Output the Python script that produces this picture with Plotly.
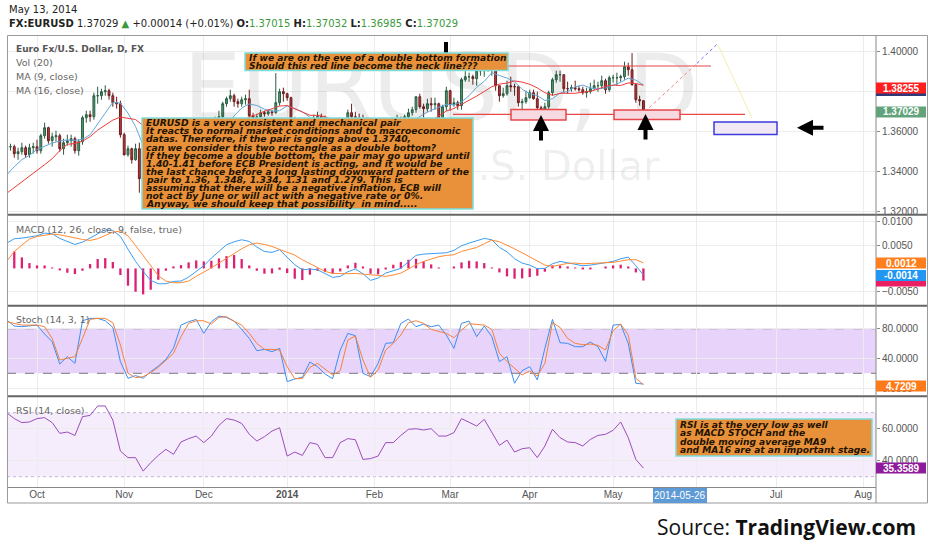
import pandas as pd
import plotly.graph_objects as go
from plotly.subplots import make_subplots

# daily FX bars (weekdays); the time axis keeps running into August 2014
dates = pd.bdate_range("2013-09-19", "2014-08-08")
n_bars = 169  # Sep 19 2013 .. May 13 2014

opens = [1.3510, 1.3525, 1.3525, 1.3490, 1.3500, 1.3520, 1.3485, 1.3520, 1.3525, 1.3505,
         1.3580, 1.3620, 1.3555, 1.3575, 1.3580, 1.3515, 1.3545, 1.3555, 1.3565, 1.3505,
         1.3550, 1.3670, 1.3685, 1.3675, 1.3780, 1.3780, 1.3800, 1.3805, 1.3780, 1.3745,
         1.3740, 1.3585, 1.3485, 1.3515, 1.3460, 1.3515, 1.3365, 1.3365, 1.3405, 1.3430,
         1.3460, 1.3445, 1.3500, 1.3505, 1.3530, 1.3440, 1.3490, 1.3555, 1.3515, 1.3560,
         1.3575, 1.3595, 1.3590, 1.3545, 1.3590, 1.3590, 1.3665, 1.3675, 1.3740, 1.3765,
         1.3780, 1.3750, 1.3740, 1.3760, 1.3765, 1.3680, 1.3665, 1.3675, 1.3695, 1.3690,
         1.3700, 1.3695, 1.3745, 1.3800, 1.3790, 1.3770, 1.3665, 1.3590, 1.3630, 1.3615,
         1.3575, 1.3610, 1.3670, 1.3675, 1.3670, 1.3605, 1.3615, 1.3540, 1.3545, 1.3560,
         1.3545, 1.3695, 1.3675, 1.3670, 1.3665, 1.3655, 1.3555, 1.3485, 1.3520, 1.3515,
         1.3530, 1.3590, 1.3635, 1.3640, 1.3665, 1.3595, 1.3675, 1.3695, 1.3710, 1.3775,
         1.3725, 1.3715, 1.3740, 1.3735, 1.3740, 1.3670, 1.3725, 1.3805, 1.3735, 1.3745,
         1.3730, 1.3860, 1.3875, 1.3875, 1.3865, 1.3905, 1.3905, 1.3910, 1.3930, 1.3930,
         1.3830, 1.3780, 1.3790, 1.3830, 1.3825, 1.3825, 1.3745, 1.3750, 1.3770, 1.3795,
         1.3765, 1.3720, 1.3705, 1.3725, 1.3795, 1.3860, 1.3885, 1.3885, 1.3815, 1.3815,
         1.3820, 1.3815, 1.3810, 1.3795, 1.3800, 1.3815, 1.3830, 1.3830, 1.3855, 1.3810,
         1.3870, 1.3870, 1.3870, 1.3875, 1.3925, 1.3910, 1.3835, 1.3760, 1.3755]
highs = [1.3545, 1.3540, 1.3535, 1.3520, 1.3545, 1.3530, 1.3540, 1.3545, 1.3560, 1.3590,
         1.3645, 1.3625, 1.3595, 1.3605, 1.3590, 1.3565, 1.3585, 1.3585, 1.3575, 1.3560,
         1.3680, 1.3705, 1.3705, 1.3795, 1.3825, 1.3815, 1.3832, 1.3815, 1.3795, 1.3775,
         1.3755, 1.3595, 1.3530, 1.3520, 1.3540, 1.3545, 1.3425, 1.3425, 1.3445, 1.3480,
         1.3485, 1.3510, 1.3515, 1.3545, 1.3540, 1.3505, 1.3570, 1.3560, 1.3575, 1.3585,
         1.3610, 1.3620, 1.3605, 1.3595, 1.3610, 1.3675, 1.3705, 1.3750, 1.3775, 1.3810,
         1.3790, 1.3765, 1.3775, 1.3785, 1.3810, 1.3695, 1.3690, 1.3710, 1.3705, 1.3710,
         1.3710, 1.3893, 1.3815, 1.3820, 1.3795, 1.3775, 1.3675, 1.3650, 1.3650, 1.3625,
         1.3620, 1.3685, 1.3700, 1.3690, 1.3680, 1.3635, 1.3625, 1.3560, 1.3580, 1.3580,
         1.3710, 1.3740, 1.3700, 1.3690, 1.3685, 1.3670, 1.3560, 1.3535, 1.3530, 1.3545,
         1.3620, 1.3645, 1.3655, 1.3685, 1.3675, 1.3685, 1.3715, 1.3725, 1.3775, 1.3790,
         1.3740, 1.3765, 1.3770, 1.3770, 1.3745, 1.3735, 1.3825, 1.3810, 1.3770, 1.3755,
         1.3870, 1.3915, 1.3895, 1.3885, 1.3925, 1.3967, 1.3935, 1.3945, 1.3945, 1.3935,
         1.3830, 1.3820, 1.3855, 1.3875, 1.3840, 1.3830, 1.3765, 1.3805, 1.3810, 1.3810,
         1.3800, 1.3730, 1.3745, 1.3805, 1.3870, 1.3905, 1.3905, 1.3885, 1.3850, 1.3835,
         1.3855, 1.3830, 1.3825, 1.3820, 1.3845, 1.3860, 1.3850, 1.3880, 1.3865, 1.3880,
         1.3885, 1.3895, 1.3885, 1.3950, 1.3945, 1.3993, 1.3840, 1.3780, 1.3758]
lows = [1.3495, 1.3505, 1.3470, 1.3460, 1.3485, 1.3470, 1.3470, 1.3490, 1.3490, 1.3490,
        1.3565, 1.3540, 1.3525, 1.3550, 1.3500, 1.3485, 1.3530, 1.3525, 1.3490, 1.3480,
        1.3535, 1.3645, 1.3650, 1.3660, 1.3740, 1.3760, 1.3780, 1.3760, 1.3725, 1.3715,
        1.3570, 1.3480, 1.3475, 1.3440, 1.3455, 1.3295, 1.3320, 1.3350, 1.3400, 1.3420,
        1.3425, 1.3430, 1.3470, 1.3495, 1.3400, 1.3425, 1.3480, 1.3500, 1.3505, 1.3535,
        1.3570, 1.3575, 1.3525, 1.3535, 1.3540, 1.3575, 1.3620, 1.3665, 1.3725, 1.3750,
        1.3725, 1.3720, 1.3725, 1.3735, 1.3665, 1.3640, 1.3625, 1.3670, 1.3675, 1.3680,
        1.3680, 1.3690, 1.3730, 1.3750, 1.3755, 1.3655, 1.3585, 1.3575, 1.3595, 1.3560,
        1.3550, 1.3595, 1.3640, 1.3645, 1.3595, 1.3590, 1.3530, 1.3510, 1.3530, 1.3515,
        1.3535, 1.3655, 1.3650, 1.3640, 1.3620, 1.3545, 1.3478, 1.3477, 1.3490, 1.3500,
        1.3500, 1.3570, 1.3615, 1.3620, 1.3585, 1.3570, 1.3660, 1.3680, 1.3695, 1.3715,
        1.3640, 1.3700, 1.3700, 1.3710, 1.3660, 1.3645, 1.3705, 1.3705, 1.3725, 1.3710,
        1.3710, 1.3850, 1.3850, 1.3835, 1.3830, 1.3880, 1.3875, 1.3900, 1.3880, 1.3805,
        1.3750, 1.3770, 1.3780, 1.3800, 1.3780, 1.3725, 1.3705, 1.3740, 1.3765, 1.3760,
        1.3690, 1.3673, 1.3680, 1.3715, 1.3780, 1.3845, 1.3850, 1.3795, 1.3790, 1.3800,
        1.3805, 1.3800, 1.3785, 1.3770, 1.3790, 1.3810, 1.3800, 1.3815, 1.3790, 1.3800,
        1.3845, 1.3830, 1.3850, 1.3860, 1.3880, 1.3830, 1.3745, 1.3730, 1.3698]
closes = [1.3525, 1.3525, 1.3490, 1.3500, 1.3520, 1.3485, 1.3520, 1.3525, 1.3505, 1.3580,
          1.3620, 1.3555, 1.3575, 1.3580, 1.3515, 1.3545, 1.3555, 1.3565, 1.3505, 1.3550,
          1.3670, 1.3685, 1.3675, 1.3780, 1.3780, 1.3800, 1.3805, 1.3780, 1.3745, 1.3740,
          1.3585, 1.3485, 1.3515, 1.3460, 1.3515, 1.3365, 1.3365, 1.3405, 1.3430, 1.3460,
          1.3445, 1.3500, 1.3505, 1.3530, 1.3440, 1.3490, 1.3555, 1.3515, 1.3560, 1.3575,
          1.3595, 1.3590, 1.3545, 1.3590, 1.3590, 1.3665, 1.3675, 1.3740, 1.3765, 1.3780,
          1.3750, 1.3740, 1.3760, 1.3765, 1.3680, 1.3665, 1.3675, 1.3695, 1.3690, 1.3700,
          1.3695, 1.3745, 1.3800, 1.3790, 1.3770, 1.3665, 1.3590, 1.3630, 1.3615, 1.3575,
          1.3610, 1.3670, 1.3675, 1.3670, 1.3605, 1.3615, 1.3540, 1.3545, 1.3560, 1.3545,
          1.3695, 1.3675, 1.3670, 1.3665, 1.3655, 1.3555, 1.3485, 1.3520, 1.3515, 1.3530,
          1.3590, 1.3635, 1.3640, 1.3665, 1.3595, 1.3675, 1.3695, 1.3710, 1.3775, 1.3725,
          1.3715, 1.3740, 1.3735, 1.3740, 1.3670, 1.3725, 1.3805, 1.3735, 1.3745, 1.3730,
          1.3860, 1.3875, 1.3875, 1.3865, 1.3905, 1.3905, 1.3910, 1.3930, 1.3930, 1.3830,
          1.3780, 1.3790, 1.3830, 1.3825, 1.3825, 1.3745, 1.3750, 1.3770, 1.3795, 1.3765,
          1.3720, 1.3705, 1.3725, 1.3795, 1.3860, 1.3885, 1.3885, 1.3815, 1.3815, 1.3820,
          1.3815, 1.3810, 1.3795, 1.3800, 1.3815, 1.3830, 1.3830, 1.3855, 1.3810, 1.3870,
          1.3870, 1.3870, 1.3875, 1.3925, 1.3910, 1.3835, 1.3760, 1.3755, 1.3703]

# indicator values at every second bar
ma9 = [1.3384, 1.3425, 1.3460, 1.3482, 1.3511, 1.3527, 1.3543, 1.3553, 1.3559, 1.3557,
       1.3562, 1.3585, 1.3641, 1.3694, 1.3747, 1.3743, 1.3693, 1.3626, 1.3531, 1.3458,
       1.3440, 1.3443, 1.3453, 1.3484, 1.3504, 1.3529, 1.3541, 1.3568, 1.3598, 1.3639,
       1.3678, 1.3718, 1.3739, 1.3731, 1.3713, 1.3703, 1.3705, 1.3729, 1.3716, 1.3700,
       1.3672, 1.3644, 1.3627, 1.3619, 1.3610, 1.3606, 1.3606, 1.3617, 1.3612, 1.3604,
       1.3576, 1.3569, 1.3575, 1.3616, 1.3664, 1.3688, 1.3707, 1.3723, 1.3737, 1.3734,
       1.3749, 1.3780, 1.3822, 1.3852, 1.3895, 1.3881, 1.3868, 1.3850, 1.3812, 1.3790,
       1.3781, 1.3756, 1.3765, 1.3793, 1.3801, 1.3824, 1.3833, 1.3819, 1.3814, 1.3818,
       1.3831, 1.3847, 1.3868, 1.3858, 1.3834]
ma16 = [1.3292, 1.3320, 1.3350, 1.3380, 1.3405, 1.3435, 1.3465, 1.3505, 1.3537, 1.3541,
        1.3553, 1.3575, 1.3608, 1.3634, 1.3658, 1.3673, 1.3667, 1.3661, 1.3630, 1.3597,
        1.3556, 1.3519, 1.3484, 1.3467, 1.3471, 1.3483, 1.3509, 1.3530, 1.3558, 1.3589,
        1.3624, 1.3652, 1.3675, 1.3686, 1.3702, 1.3715, 1.3728, 1.3731, 1.3714, 1.3698,
        1.3682, 1.3682, 1.3675, 1.3660, 1.3633, 1.3613, 1.3618, 1.3623, 1.3614, 1.3595,
        1.3585, 1.3593, 1.3602, 1.3610, 1.3619, 1.3627, 1.3654, 1.3677, 1.3703, 1.3716,
        1.3736, 1.3760, 1.3778, 1.3801, 1.3825, 1.3838, 1.3843, 1.3854, 1.3848, 1.3837,
        1.3819, 1.3795, 1.3782, 1.3792, 1.3793, 1.3792, 1.3798, 1.3802, 1.3813, 1.3827,
        1.3833, 1.3831, 1.3844, 1.3841, 1.3832]
macd_line = [0.00543, 0.00636, 0.0065, 0.00671, 0.007, 0.00757, 0.00743, 0.00643, 0.00579, 0.00514,
             0.00564, 0.0065, 0.00736, 0.00829, 0.00814, 0.00686, 0.00414, 0.0015, -0.00064, -0.00257,
             -0.00329, -0.00329, -0.00279, -0.00271, -0.00186, -0.00071, 0.00057, 0.00221, 0.00364, 0.00507,
             0.00571, 0.00614, 0.00579, 0.00457, 0.00364, 0.00343, 0.004, 0.0025, 0.00079, -0.00029,
             -0.00014, -0.00029, -0.00114, -0.00193, -0.00171, -0.00071, -0.00014, -0.00114, -0.00257, -0.00207,
             -0.001, -0.0005, 0.0, 0.00143, 0.00279, 0.00307, 0.00314, 0.00321, 0.00336, 0.00386,
             0.00486, 0.00543, 0.00593, 0.00643, 0.00614, 0.0045, 0.00357, 0.00207, 0.00114, 0.00071,
             -0.00007, 0.0, 0.001, 0.0015, 0.00121, 0.00086, 0.00057, 0.00071, 0.001, 0.00114,
             0.0015, 0.00207, 0.00243, 0.00057, -0.0014]
macd_signal = [0.0015, 0.00364, 0.005, 0.00629, 0.00686, 0.00714, 0.00736, 0.00721, 0.00686, 0.0065,
               0.00621, 0.006, 0.00636, 0.00707, 0.00779, 0.008, 0.007, 0.00493, 0.00271, 0.00043,
               -0.00157, -0.00271, -0.00307, -0.00307, -0.00271, -0.00171, -0.00086, 0.00014, 0.00114, 0.00221,
               0.00321, 0.00421, 0.00507, 0.00543, 0.00514, 0.00471, 0.00407, 0.0035, 0.00286, 0.00186,
               0.00107, 0.00029, -0.00064, -0.00107, -0.00114, -0.00114, -0.00107, -0.00114, -0.00136, -0.0015,
               -0.00171, -0.00143, -0.001, -0.00014, 0.00079, 0.0015, 0.00207, 0.0025, 0.00279, 0.00293,
               0.00364, 0.00407, 0.0045, 0.00529, 0.00607, 0.00571, 0.005, 0.00421, 0.00336, 0.0025,
               0.0015, 0.00071, 0.00043, 0.00079, 0.00107, 0.00114, 0.001, 0.00107, 0.00114, 0.00114,
               0.00129, 0.00157, 0.00186, 0.00186, 0.0012]
macd_hist = [0.004, 0.00364, 0.00236, 0.00114, 0.00064, 0.00064, 0.00007, -0.00043, -0.00093, -0.00121,
             -0.0005, 0.00093, 0.002, 0.00221, 0.00136, -0.00143, -0.00371, -0.005, -0.00557, -0.00457,
             -0.00243, -0.0005, 0.00043, 0.00071, 0.00129, 0.00171, 0.0015, 0.00164, 0.00214, 0.00264,
             0.00286, 0.002, 0.00064, -0.0005, -0.00114, -0.00107, -0.00029, -0.001, -0.00221, -0.0025,
             -0.00136, -0.0005, -0.00079, -0.00114, -0.00064, 0.00064, 0.00121, 0.00021, -0.00114, -0.00129,
             -0.00014, 0.00079, 0.00136, 0.00186, 0.00207, 0.0015, 0.00086, 0.00007, 0.0, 0.00021,
             0.00129, 0.00164, 0.0015, 0.00114, 0.00007, -0.00086, -0.00171, -0.00221, -0.00214, -0.00186,
             -0.00157, -0.00071, 0.00064, 0.00064, 0.00036, 0.00007, -0.00021, -0.00014, 0.0, 0.00021,
             0.00064, 0.00079, 0.00029, -0.00086, -0.0026]
stoch_k = [91.6, 83.6, 82.7, 83.6, 84.9, 72.8, 62.5, 32.5, 42.4, 33.4,
           90.7, 93.9, 93.9, 90.7, 81.8, 35.7, 13.3, 16.9, 13.3, 22.2,
           29.8, 38.8, 53.6, 84.9, 89.4, 92.5, 73.7, 89.4, 97.0, 95.2,
           90.3, 79.1, 67.0, 50.4, 52.2, 49.1, 53.6, 8.8, 12.4, 14.6,
           35.2, 28.9, 19.1, 12.8, 51.3, 73.7, 70.6, 20.0, 15.5, 33.4,
           60.3, 61.2, 87.2, 93.0, 82.7, 86.3, 82.7, 84.9, 71.5, 53.6,
           87.2, 90.3, 69.3, 83.6, 69.3, 35.7, 42.4, 6.6, 23.6, 28.9,
           11.0, 53.6, 92.5, 61.2, 60.3, 55.8, 55.8, 62.1, 55.8, 36.0,
           84.9, 85.8, 60.3, 6.6, 5.5]
stoch_d = [89.4, 87.2, 84.9, 84.9, 84.9, 82.7, 67.0, 37.9, 39.7, 42.4,
           67.0, 92.5, 93.9, 93.9, 88.1, 58.1, 20.0, 14.2, 15.5, 20.9,
           28.0, 37.9, 46.9, 69.3, 87.2, 90.7, 90.7, 86.3, 95.2, 96.1,
           89.9, 84.9, 73.7, 60.3, 52.2, 52.2, 51.3, 29.0, 12.8, 12.8,
           28.0, 33.4, 25.8, 17.8, 23.6, 64.8, 70.1, 37.9, 14.6, 24.5,
           51.3, 60.3, 71.5, 88.1, 90.7, 87.2, 79.1, 76.0, 73.7, 67.9,
           78.2, 86.7, 85.8, 84.9, 79.1, 46.9, 35.7, 26.7, 17.8, 23.1,
           16.4, 33.4, 88.1, 81.8, 67.0, 60.3, 58.5, 59.4, 57.6, 51.3,
           77.3, 86.3, 71.5, 13.3, 4.72]
rsi = [70.0, 66.3, 63.8, 64.2, 66.3, 66.9, 63.8, 57.1, 57.9, 55.8,
       67.5, 68.3, 74.2, 74.2, 65.4, 46.0, 41.9, 41.9, 33.5, 38.8,
       43.3, 47.1, 44.0, 51.7, 53.8, 55.4, 51.3, 55.4, 62.1, 66.3,
       65.4, 63.3, 56.5, 52.3, 55.0, 58.5, 60.6, 42.9, 45.4, 43.3,
       51.3, 50.2, 41.9, 41.9, 51.3, 53.8, 53.1, 40.8, 41.3, 42.9,
       51.3, 51.3, 55.8, 59.6, 60.0, 59.2, 60.0, 55.4, 55.4, 57.5,
       66.3, 64.2, 61.7, 65.8, 57.5, 49.6, 52.9, 45.4, 47.5, 48.1,
       41.9, 49.2, 59.6, 54.4, 51.7, 51.3, 49.2, 53.3, 55.8, 56.5,
       59.0, 64.2, 54.4, 40.8, 35.4]

# "Jun" sits under the crosshair date label, so it shows no text
month_labels = ["Oct", "Nov", "Dec", "<b>2014</b>", "Feb", "Mar", "Apr", "May", "", "Jul", "Aug"]

note_top = ["If we are on the eve of a double bottom formation",
            "Should this red line become the neck line???"]
note_big = ["EURUSD is a very consistent and mechanical pair",
            "It reacts to normal market conditions and to macroeconomic",
            "datas. Therefore, if the pair is going above 1.3740,",
            "can we consider this two rectangle as a double bottom?",
            "If they become a double bottom, the pair may go upward until",
            "1.40-1.41 before ECB President is acting, and it would be",
            "the last chance before a long lasting downward pattern of the",
            "pair to 1.36, 1.348, 1.334, 1.31 and 1.279. This is",
            "assuming that there will be a negative inflation, ECB will",
            "not act by June or will act with a negative rate or 0%.",
            "Anyway, we should keep that possibility  in mind....."]
note_rsi = ["RSI is at the very low as well",
            "as MACD STOCH and the",
            "double moving average MA9",
            "and MA16 are at an important stage."]

bar_x = list(range(n_bars))
ind_x = bar_x[::2]
month_ticks = [i for i in range(1, len(dates)) if dates[i].month != dates[i - 1].month]

# ---- geometry helpers (screen pixels -> paper / data)
W, H = 932, 550
ML, MR, MT, MB = 7, 56, 36, 63


def px(x):
    return (x - ML) / (W - ML - MR)


def py(y):
    return (H - MB - y) / (H - MT - MB)


def bar_at(x):
    return (x - 6.7) / 3.79


def price_at(y):
    return 1.40 - (y - 51.7) * 0.0005


fig = make_subplots(rows=4, cols=1, shared_xaxes=True, vertical_spacing=0.01)

# watermark
fig.add_trace(go.Scatter(
    x=[bar_at(441), bar_at(472)], y=[price_at(97), price_at(170)],
    mode="text", text=["EURUSD, D", "Euro Fx/U.S. Dollar"],
    textfont=dict(family="DejaVu Sans", size=[92, 40], color="rgba(0,0,0,0.075)"),
    hoverinfo="skip"), row=1, col=1)

fig.add_trace(go.Candlestick(
    x=bar_x, open=opens, high=highs, low=lows, close=closes,
    increasing=dict(line=dict(color="#2a5e43", width=1), fillcolor="#4f9a70"),
    decreasing=dict(line=dict(color="#6b1e1e", width=1), fillcolor="#c0393b"),
    whiskerwidth=0, hoverinfo="skip"), row=1, col=1)
fig.add_trace(go.Scatter(x=ind_x, y=ma9, mode="lines",
                         line=dict(color="#62a9d9", width=1)), row=1, col=1)
fig.add_trace(go.Scatter(x=ind_x, y=ma16, mode="lines",
                         line=dict(color="#ee3b3b", width=1)), row=1, col=1)

fig.add_trace(go.Bar(x=ind_x, y=macd_hist, width=0.6,
                     marker=dict(color="#dc1f72", line=dict(width=0))), row=2, col=1)
fig.add_trace(go.Scatter(x=ind_x, y=macd_line, mode="lines",
                         line=dict(color="#3d9df0", width=1)), row=2, col=1)
fig.add_trace(go.Scatter(x=ind_x, y=macd_signal, mode="lines",
                         line=dict(color="#ff8a33", width=1)), row=2, col=1)

fig.add_trace(go.Scatter(x=ind_x, y=stoch_k, mode="lines",
                         line=dict(color="#3d8ef0", width=1)), row=3, col=1)
fig.add_trace(go.Scatter(x=ind_x, y=stoch_d, mode="lines",
                         line=dict(color="#f5813a", width=1)), row=3, col=1)

fig.add_trace(go.Scatter(x=ind_x, y=rsi, mode="lines",
                         line=dict(color="#9b4dba", width=1)), row=4, col=1)

tick_font = dict(family="Liberation Sans", size=10, color="#555")
fig.update_xaxes(range=[bar_at(ML), bar_at(W - MR)], tickvals=month_ticks, ticktext=month_labels,
                 showgrid=True, gridcolor="#ececec", zeroline=False, showline=False, ticks="",
                 tickfont=tick_font, rangeslider_visible=False, fixedrange=True)
fig.update_yaxes(side="right", showgrid=True, gridcolor="#ececec", zeroline=False,
                 ticks="outside", ticklen=3, tickcolor="#888", tickfont=tick_font, fixedrange=True)

fig.update_layout(
    width=W, height=H, margin=dict(l=ML, r=MR, t=MT, b=MB),
    paper_bgcolor="white", plot_bgcolor="white", showlegend=False, hovermode=False,
    font=dict(family="DejaVu Sans", size=10, color="#555"),
    yaxis=dict(domain=[py(214), 1.0], range=[price_at(214), price_at(36)],
               tickvals=[1.32, 1.34, 1.36, 1.38, 1.40], tickformat=".5f"),
    yaxis2=dict(domain=[py(305), py(215.5)], range=[-0.00785, 0.01135],
                tickvals=[-0.005, 0.005, 0.01], tickformat=".4f"),
    yaxis3=dict(domain=[py(395), py(306.5)], range=[-9.2, 109.9],
                tickvals=[0, 40, 80], tickformat=".4f"),
    yaxis4=dict(domain=[0, py(397)], range=[23.56, 79.8],
                tickvals=[40, 60], tickformat=".4f"),
)

shapes = []


def seg(x0, y0, x1, y1, color, width=1, dash="solid"):
    shapes.append(dict(type="line", xref="paper", yref="paper", x0=px(x0), y0=py(y0),
                       x1=px(x1), y1=py(y1), line=dict(color=color, width=width, dash=dash)))


def box(x0, y0, x1, y1, fill, line_color=None, lw=1.5):
    shapes.append(dict(type="rect", xref="paper", yref="paper", x0=px(x0), y0=py(y1),
                       x1=px(x1), y1=py(y0), fillcolor=fill,
                       line=dict(color=line_color or fill, width=lw if line_color else 0)))


# indicator bands
shapes.append(dict(type="rect", xref="x3 domain", yref="y3", x0=0, x1=1, y0=20, y1=80,
                   fillcolor="#e8d3fa", line_width=0, layer="below"))
for lvl in (20, 80):
    shapes.append(dict(type="line", xref="x3 domain", yref="y3", x0=0, x1=1, y0=lvl, y1=lvl,
                       line=dict(color="#777", width=1, dash="dash"), layer="below"))
shapes.append(dict(type="rect", xref="x4 domain", yref="y4", x0=0, x1=1, y0=30, y1=70,
                   fillcolor="#f5ecfc", line_width=0, layer="below"))
for lvl in (30, 70):
    shapes.append(dict(type="line", xref="x4 domain", yref="y4", x0=0, x1=1, y0=lvl, y1=lvl,
                       line=dict(color="#c7b4d8", width=1, dash="dot"), layer="below"))

# drawings in the price pane
seg(445, 66, 711, 66, "#e8474a", 1.2)
seg(453, 114.3, 745, 114.3, "#e8474a", 1.2)
seg(645, 111.7, 697, 63.3, "#f08080", 1, "dot")
seg(697, 63.3, 718, 43.3, "#6f6ff0", 1, "dot")
seg(718, 45, 752, 118, "#f4efa8", 1)
seg(446, 42, 446, 54, "black", 4)
box(511, 109.5, 566, 120, "#f7d9e1", "#e8474a")
box(614, 110, 680, 119.5, "#f7d9e1", "#e8474a")
box(714, 122, 777, 134.5, "#f1e8f6", "#3b3bdc")
box(245, 53, 508, 70.5, "#e8913a", "#7adede")
box(142, 118, 473, 209, "#e8913a", "#7adede")
box(676, 419, 872, 456, "#e8913a", "#7adede")

# pane frame
for ysep in (214.8, 305.8, 396.2):
    seg(7, ysep, 928, ysep, "#666", 2)
seg(876, 35.5, 876, 503, "#888", 1)
seg(7, 487.5, 876, 487.5, "#888", 1)
box(7.5, 35.5, 927.5, 503, "rgba(0,0,0,0)", "#9a9a9a", 1)

# right-axis value labels
box(876, 85, 926, 96, "#2f3a7a")
box(876, 82.5, 926, 93.5, "#ff1f1f")
box(876, 106.5, 926, 117.5, "#62a37c")
box(876, 275.5, 926, 286.5, "#e91e63")
box(876, 270, 926, 281, "#2196f3")
box(876, 257.5, 926, 268.5, "#ff7f1e")
box(876, 380.5, 926, 391.5, "#ff7a1a")
box(876, 462.5, 926, 473.5, "#8e1b9c")
box(653, 488, 707, 503, "#5e9ad6")

fig.update_layout(shapes=shapes)

ann = []


def label(x, y, text, size=10, color="#555", family="DejaVu Sans", anchor="left"):
    ann.append(dict(xref="paper", yref="paper", x=px(x), y=py(y), text=text, showarrow=False,
                    xanchor=anchor, yanchor="middle", font=dict(family=family, size=size, color=color)))


green = "#3a9a3a"
label(7, 9, "May 13, 2014", 10, "#222")
label(7, 23, "<b>FX:EURUSD</b> 1.37029 <span style='color:%s'>▲</span> +0.00014 (+0.01%%) "
      "<b>O:</b><span style='color:%s'>1.37015</span> <b>H:</b><span style='color:%s'>1.37032</span> "
      "<b>L:</b><span style='color:%s'>1.36985</span> <b>C:</b><span style='color:%s'>1.37029</span>"
      % (green, green, green, green, green), 10, "#222")

label(14, 49.5, "<b>Euro Fx/U.S. Dollar, D, FX</b>", 9, "#555")
label(14, 62.7, "Vol (20)", 9.5, "#666")
label(14, 76.7, "MA (9, close)", 9.5, "#666")
label(14, 90, "MA (16, close)", 9.5, "#666")
label(14, 229, "MACD (12, 26, close, 9, false, true)", 9.5, "#666")
label(14, 319, "Stoch (14, 3, 1)", 9.5, "#666")
label(14, 410, "RSI (14, close)", 9.5, "#666")

note_color = "#1f1300"
for k, line in enumerate(note_top):
    label(247, 58.3 + k * 7.9, "<b><i>%s</i></b>" % line, 9.1, note_color)
for k, line in enumerate(note_big):
    label(143.5, 122.7 + k * 8.1, "<b><i>%s</i></b>" % line, 9.2, note_color)
for k, line in enumerate(note_rsi):
    label(678, 424.5 + k * 8.6, "<b><i>%s</i></b>" % line, 9.1, note_color)

for yv, txt in ((88, "1.38255"), (112, "1.37029"), (275.5, "-0.0014"), (263, "0.0012"),
                (386, "4.7209"), (468, "35.3589")):
    label(901, yv, "<b>%s</b>" % txt, 10, "white", "Liberation Sans", "center")
label(680, 495.5, "2014-05-26", 10, "white", "Liberation Sans", "center")

label(918, 527, "Source: <b>TradingView.com</b>", 21, "#111", "Open Sans", "right")

# black arrows
for hx, hy, ax, ay in ((541, 115, 0, 27), (645.5, 114, 0, 27), (797, 127.7, 28, 0)):
    ann.append(dict(xref="paper", yref="paper", x=px(hx), y=py(hy), ax=ax, ay=ay, text="",
                    showarrow=True, arrowhead=2, arrowsize=0.8, arrowwidth=4, arrowcolor="black"))

fig.update_layout(annotations=ann)

fig.write_html("out.html", config={"displayModeBar": False},
               post_script="document.body.style.margin='0';")
